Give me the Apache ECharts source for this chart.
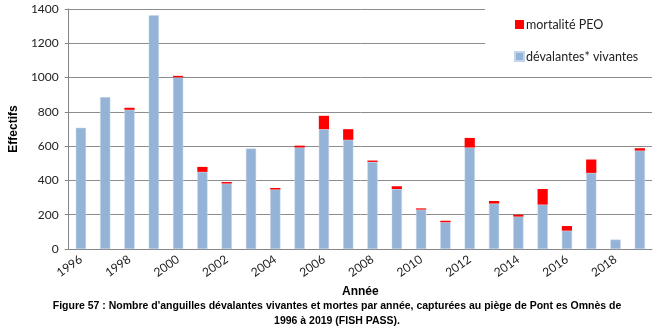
<!DOCTYPE html>
<html><head><meta charset="utf-8">
<script src="https://cdn.jsdelivr.net/npm/echarts@6/dist/echarts.min.js"></script>
<style>html,body{margin:0;padding:0;background:#fff}#c{width:669px;height:335px}</style>
</head><body><div id="c"></div>
<script>
const years = ['1996','1997','1998','1999','2000','2001','2002','2003','2004','2005','2006','2007','2008','2009','2010','2011','2012','2013','2014','2015','2016','2017','2018','2019'];
const vivantes = [707,886,812,1363,1001,450,382,586,347,592,699,637,508,350,230,156,592,265,189,259,107,444,55,574];
const mortalite = [0,0,12,0,9,29,9,0,9,11,78,62,8,16,7,9,56,15,11,91,27,78,0,14];
const yTicks = [0,200,400,600,800,1000,1200,1400];
const captionLine1 = "Figure 57 : Nombre d'anguilles dévalantes vivantes et mortes par année, capturées au piège de Pont es Omnès de";
const captionLine2 = "1996 à 2019 (FISH PASS).";

const capStyle = {fontFamily:'Liberation Sans',fontWeight:'bold',fontSize:10.5,fill:'#000',textAlign:'center',textVerticalAlign:'middle'};
const chart = echarts.init(document.getElementById('c'));
chart.setOption({
  animation:false,
  backgroundColor:'#fff',
  graphic:[
    {type:'rect',shape:{x:485,y:0,width:184,height:62},style:{fill:'#fff'},z:10},
    {type:'text',x:337,y:306,style:Object.assign({text:captionLine1},capStyle)},
    {type:'text',x:337,y:321,style:Object.assign({text:captionLine2},capStyle)}
  ],
  legend:{orient:'vertical',left:509,top:13,itemWidth:9,itemHeight:9,itemGap:19,z:20,
    data:['mortalité PEO','dévalantes* vivantes'],
    textStyle:{fontFamily:'Lato',fontSize:12.5,color:'#222',padding:[0,0,0,-3]},
    icon:'rect'},
  grid:{left:62,right:17,top:9,bottom:86},
  xAxis:{type:'category',data:years,
    name:'Année',nameLocation:'middle',nameGap:36,
    nameTextStyle:{fontFamily:'Liberation Sans',fontWeight:'bold',fontSize:12,color:'#000'},
    axisLine:{lineStyle:{color:'#868686'}},
    axisTick:{interval:0,length:5,lineStyle:{color:'#868686'}},
    axisLabel:{interval:1,rotate:35,fontFamily:'Lato',fontSize:12,color:'#222',margin:9}},
  yAxis:{type:'value',min:0,max:1400,interval:200,
    name:'Effectifs',nameLocation:'middle',nameGap:48,
    nameTextStyle:{fontFamily:'Liberation Sans',fontWeight:'bold',fontSize:12,color:'#000'},
    axisLine:{show:true,lineStyle:{color:'#868686'}},
    axisTick:{show:true,length:4,lineStyle:{color:'#868686'}},
    splitLine:{lineStyle:{color:'#8c8c8c'}},
    axisLabel:{fontFamily:'Lato',fontSize:12,color:'#222',margin:10,
      formatter:v=>yTicks.includes(v)?String(v):''}},
  series:[
    {name:'dévalantes* vivantes',type:'bar',stack:'a',data:vivantes,barWidth:'42%',
      itemStyle:{color:'#95B3D7',borderColor:'#c5d6ea',borderWidth:0.5}},
    {name:'mortalité PEO',type:'bar',stack:'a',data:mortalite,barWidth:'42%',
      itemStyle:{color:'#FF0000'}}
  ]
});
</script></body></html>
